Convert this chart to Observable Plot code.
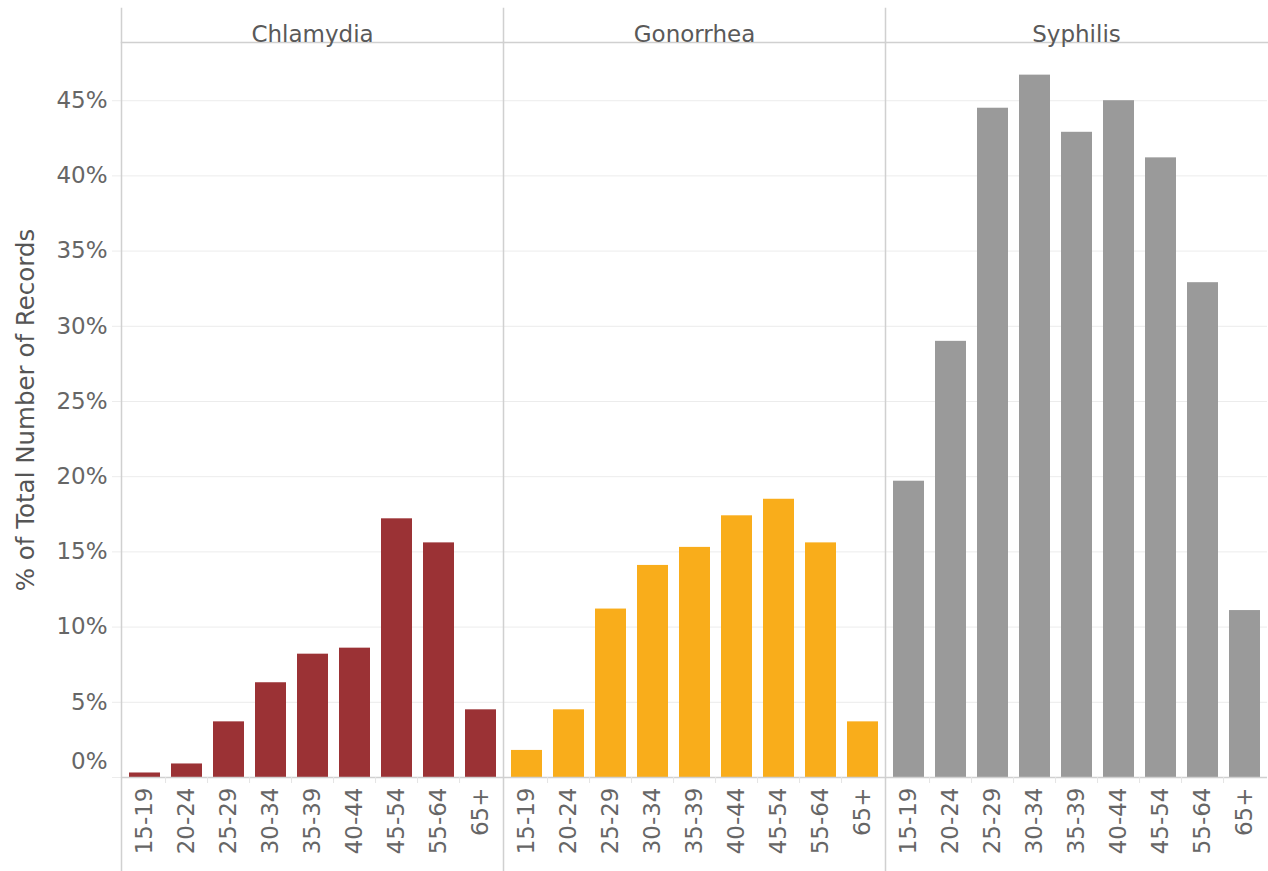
<!DOCTYPE html>
<html>
<head>
<meta charset="utf-8">
<script src="https://cdn.jsdelivr.net/npm/d3@7"></script>
<script src="https://cdn.jsdelivr.net/npm/@observablehq/plot@0.6"></script>
<style>
  html, body { margin: 0; padding: 0; background: #ffffff; }
  #chart svg { display: block; }
</style>
</head>
<body>
<div id="chart"></div>
<script>
const ages = ["15-19", "20-24", "25-29", "30-34", "35-39", "40-44", "45-54", "55-64", "65+"];
const diseases = ["Chlamydia", "Gonorrhea", "Syphilis"];
const chlamydiaPct = [0.3, 0.9, 3.7, 6.3, 8.2, 8.6, 17.2, 15.6, 4.5];
const gonorrheaPct = [1.8, 4.5, 11.2, 14.1, 15.3, 17.4, 18.5, 15.6, 3.7];
const syphilisPct = [19.7, 29.0, 44.5, 46.7, 42.9, 45.0, 41.2, 32.9, 11.1];
const diseaseColors = ["#9b3235", "#f9ad1b", "#9a9a9a"];
const yTicks = [0, 5, 10, 15, 20, 25, 30, 35, 40, 45];
const yTitle = "% of Total Number of Records";

const series = [chlamydiaPct, gonorrheaPct, syphilisPct];
const data = diseases.flatMap((d, i) => ages.map((a, j) => ({disease: d, age: a, value: series[i][j]})));

const W = 1268, H = 871, ML = 120, MT = 42, MB = 94;
const facetW = (W - ML) / diseases.length;
const pIn = 0.27, pOut = 0.1;
const step = facetW / (ages.length - pIn + 2 * pOut);
const font = "Verdana, 'DejaVu Sans', sans-serif";
const textColor = "#666666";
const lineColor = "#d0d0d0";

const chart = Plot.plot({
  width: W,
  height: H,
  marginLeft: ML,
  marginRight: 0,
  marginTop: MT,
  marginBottom: MB,
  style: {fontFamily: font, fontSize: "23px", color: textColor, background: "#ffffff"},
  fx: {domain: diseases, padding: 0, axis: null, label: null},
  x: {domain: ages, paddingInner: pIn, paddingOuter: pOut, axis: null, label: null},
  y: {domain: [0, 48.87], axis: null, label: null},
  color: {domain: diseases, range: diseaseColors},
  marks: [
    Plot.gridY(yTicks.slice(1), {stroke: "#ececec", strokeOpacity: 1}),
    Plot.axisY(yTicks, {tickSize: 9, text: null, stroke: "#ececec", strokeOpacity: 1, label: null}),
    Plot.frame({anchor: "top", stroke: lineColor, strokeOpacity: 1, strokeWidth: 1.5}),
    Plot.frame({anchor: "left", stroke: lineColor, strokeOpacity: 1, strokeWidth: 1.5, insetTop: -34, insetBottom: -93}),
    Plot.barY(data, {fx: "disease", x: "age", y: "value", fill: "disease"}),
    Plot.ruleY([0], {stroke: lineColor, strokeOpacity: 1, strokeWidth: 1.5}),
    Plot.axisX(ages.slice(1), {tickSize: 6, text: null, dx: -step / 2, stroke: "#e4e4e4", strokeOpacity: 1, label: null}),
    Plot.axisX({anchor: "bottom", tickSize: 0, tickPadding: 10, tickRotate: -90, fontSize: 23, fill: textColor, label: null}),
    Plot.axisY(yTicks.slice(1), {tickSize: 0, tickPadding: 14, tickFormat: d => d + "%", fontSize: 23, fill: textColor, label: null}),
    Plot.axisY([0], {tickSize: 0, tickPadding: 14, tickFormat: d => d + "%", fontSize: 23, fill: textColor, dy: -16, label: null}),
    Plot.text(diseases, {fx: d => d, text: d => d, frameAnchor: "top", dy: -17, fontSize: 23, fill: "#595959"}),
    Plot.text([yTitle], {fx: [diseases[0]], text: d => d, frameAnchor: "left", textAnchor: "middle", rotate: -90, dx: -95, fontSize: 24.5, fill: "#555555"})
  ]
});

document.getElementById("chart").appendChild(chart);
</script>
</body>
</html>
